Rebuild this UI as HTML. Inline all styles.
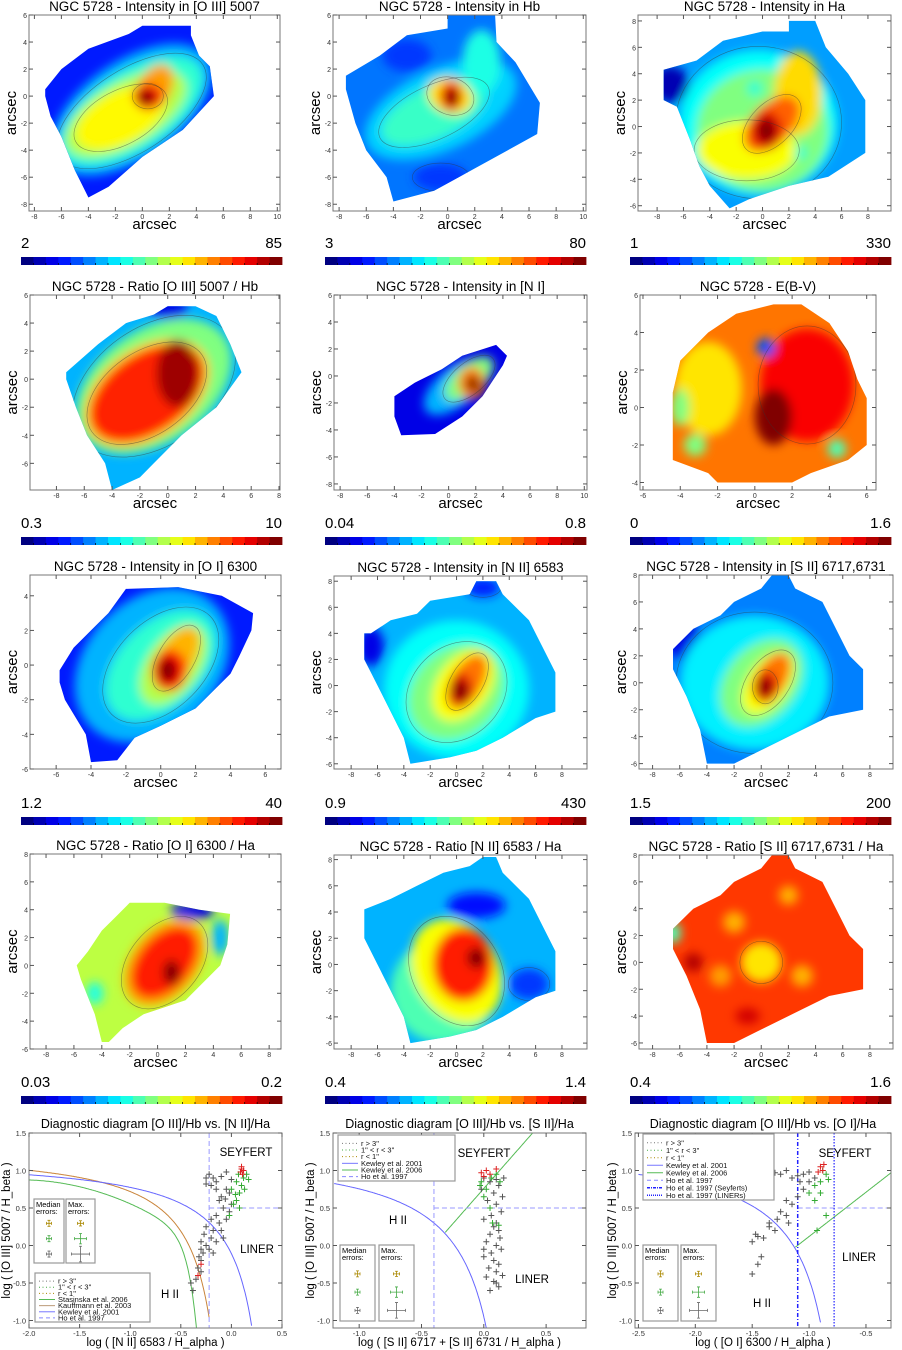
<!DOCTYPE html>
<html><head><meta charset="utf-8">
<style>
html,body{margin:0;padding:0;background:#fff;width:902px;height:1350px;overflow:hidden}
svg{display:block}
text{font-family:"Liberation Sans",sans-serif}
</style></head>
<body>
<svg id="root" width="902" height="1350" viewBox="0 0 902 1350" xmlns="http://www.w3.org/2000/svg">
<defs>
<filter id="blur" x="-20%" y="-20%" width="140%" height="140%"><feGaussianBlur stdDeviation="5"/></filter>
</defs>
</svg>
<script>
// ---------- diagnostic diagram data ----------
const d1Gray=[[-0.38,-0.6],[-0.35,-0.45],[-0.33,-0.3],[-0.3,-0.2],[-0.28,-0.1],[-0.25,0],[-0.3,0.05],[-0.2,0.1],[-0.22,-0.05],[-0.15,0.05],[-0.18,0.2],[-0.25,0.25],[-0.12,0.3],[-0.1,0.2],[-0.05,0.35],[-0.15,0.4],[-0.08,0.5],[-0.02,0.45],[0,0.55],[-0.1,0.65],[-0.05,0.75],[-0.2,0.8],[-0.25,0.9],[-0.15,0.85],[-0.1,0.92],[-0.22,0.95],[0,0.88],[-0.05,0.98],[-0.3,-0.35],[-0.27,0.15],[-0.4,-0.5],[-0.32,-0.15],[-0.18,-0.1],[-0.08,0.1],[-0.12,0.6],[-0.02,0.7],[-0.2,0.35],[-0.15,0.75],[-0.25,0.82],[-0.18,0.9],[-0.06,0.62],[-0.3,-0.05]];
const d1Green=[[0.02,0.55],[0.05,0.6],[0.08,0.7],[0.1,0.8],[0.12,0.9],[0.15,0.95],[0.05,0.85],[0.0,0.75],[0.13,0.75],[0.07,0.95],[-0.02,0.4],[0.08,0.5],[0.17,0.88],[0.04,0.68]];
const d1Red=[[0.09,0.98],[0.1,1.02],[0.11,0.95],[0.1,1.05],[0.12,1.0],[-0.33,-0.4],[-0.3,-0.25]];
const d2Gray=[[0.0,0.9],[0.05,0.85],[0.1,0.88],[0.12,0.8],[0.08,0.7],[0.03,0.6],[0.1,0.55],[0.14,0.45],[0.06,0.4],[0.0,0.35],[0.1,0.3],[0.12,0.2],[0.05,0.15],[0.02,0.05],[0.1,0.0],[0.14,-0.05],[0.06,-0.1],[0.0,-0.15],[0.08,-0.2],[0.12,-0.25],[0.04,-0.3],[0.1,-0.35],[0.02,-0.42],[0.08,-0.48],[0.12,-0.55],[0.05,-0.6],[0.15,0.65],[0.16,0.9],[-0.02,0.75],[0.08,0.25],[0.13,0.1],[0.0,-0.05],[0.15,-0.4],[0.1,-0.5]];
const d2Green=[[-0.03,0.8],[0.02,0.75],[0.06,0.9],[0.1,0.95],[0.0,0.65],[0.05,0.5],[0.07,0.3],[0.12,0.27],[-0.02,0.85],[0.13,0.85]];
const d2Red=[[-0.02,0.97],[0.02,1.0],[0.05,0.95],[0.1,1.02],[0.0,0.92]];
const d3Gray=[[-1.5,-0.38],[-1.45,-0.25],[-1.42,-0.15],[-1.5,0.05],[-1.47,0.15],[-1.4,0.1],[-1.35,0.25],[-1.3,0.2],[-1.28,0.35],[-1.25,0.45],[-1.2,0.4],[-1.15,0.55],[-1.2,0.6],[-1.1,0.65],[-1.05,0.75],[-1.25,0.95],[-1.2,1.0],[-1.15,0.9],[-1.1,0.93],[-1.05,0.95],[-1.0,0.98],[-0.95,0.9],[-1.3,0.97],[-1.35,0.3],[-1.45,0.12],[-1.18,0.3],[-1.0,0.85],[-1.08,0.85]];
const d3Green=[[-0.95,0.8],[-0.9,0.85],[-0.85,0.95],[-0.9,0.7],[-1.0,0.7],[-0.88,1.0],[-0.95,0.6],[-0.93,0.2],[-0.85,0.4],[-0.83,0.88]];
const d3Red=[[-0.9,1.05],[-0.88,1.0],[-0.92,0.98],[-0.87,1.08]];
const mapXTicks=[-8,-6,-4,-2,0,2,4,6,8,10];
const mapYTicks=[-8,-6,-4,-2,0,2,4,6,8];
const diagYTicks=[-1.0,-0.5,0.0,0.5,1.0,1.5];
const cbarLo=['2','3','1','0.3','0.04','0','1.2','0.9','1.5','0.03','0.4','0.4'];
const cbarHi=['85','80','330','10','0.8','1.6','40','430','200','0.2','1.4','1.6'];

const NS='http://www.w3.org/2000/svg';
const root=document.getElementById('root');
function el(tag,attrs,parent,txt){const e=document.createElementNS(NS,tag);for(const k in attrs)e.setAttribute(k,attrs[k]);if(txt!==undefined)e.textContent=txt;(parent||root).appendChild(e);return e;}
function jet(t){const c=v=>Math.round(255*Math.max(0,Math.min(1,v)));return `rgb(${c(1.5-Math.abs(4*t-3))},${c(1.5-Math.abs(4*t-2))},${c(1.5-Math.abs(4*t-1))})`;}

// ---------- maps ----------
const maps=[
{title:'NGC 5728 - Intensity in [O III] 5007',box:[29,15,280,211],xr:[-8.4,10.2],yr:[-8.5,6],base:0.15,
shape:[[-7.2,0.5],[-6,2],[-4,3.5],[-1,4.6],[0,5.2],[3.6,5.2],[3.6,4.5],[4.2,3],[5,2.2],[5.3,0],[3,-2.5],[0,-4.5],[-2.5,-6.7],[-4,-7.5],[-5,-5.5],[-6,-3],[-6.8,-1.5],[-7.2,0]],
layers:[[-0.8,-1,6.8,3.6,35,0.3],[-0.8,-1.1,6,2.9,33,0.42],[-1.2,-1.3,5,2.3,30,0.55],[-1.6,-1.6,3.6,1.9,28,0.63],[0.9,0.6,1.9,1.2,60,0.72],[0.4,0,1.1,0.9,0,0.86],[0.3,-0.1,0.65,0.55,0,1.0]]},
{title:'NGC 5728 - Intensity in Hb',box:[333,15,586,211],xr:[-8.45,10.2],yr:[-8.5,6],base:0.24,
shape:[[-7.5,1.5],[-5,3],[-3,4.5],[0,5],[0,6],[3.5,6],[3.6,4],[5,2.5],[6.8,-0.5],[6.6,-2.8],[3,-4.8],[-1,-7],[-4,-7.8],[-4.5,-6],[-6,-4],[-6.8,-2],[-7.5,0.5]],
layers:[[-0.5,-1,6,3,25,0.33],[-1,-1.2,4.2,1.9,25,0.43],[2.5,2.5,1.4,2.4,0,0.4],[0.2,0,1.3,1.7,70,0.65],[0.25,0,0.85,1.1,0,0.84],[0.3,-0.1,0.5,0.7,0,1.0],[-3,3,1.8,1.2,0,0.18],[-0.5,-6,2,1,0,0.18]]},
{title:'NGC 5728 - Intensity in Ha',box:[638,15,891,211],xr:[-9.45,9.75],yr:[-6.4,8.45],base:0.28,
shape:[[-7.5,4.3],[-5,5],[-3,6.5],[0,7.2],[2,7.2],[2,8],[4,8],[4.8,6],[6.5,4],[7.8,2],[7.8,-2],[5,-3.8],[2,-4.5],[-1,-5.5],[-2.5,-6.2],[-4,-4.5],[-4.8,-3],[-5.5,-1],[-6.5,1.5],[-7.5,2]],
layers:[[-7,3.2,1.4,1.4,0,0.05],[-0.3,0.3,6,5.5,0,0.38],[0,-0.3,5,4.6,0,0.5],[-1.2,-1.8,3.8,2.2,0,0.62],[2.7,2.5,1.8,3.2,0,0.66],[0.7,0.2,2.6,1.5,45,0.78],[0.3,-0.3,1.2,1.5,0,0.9],[0.3,-0.3,0.7,0.9,0,1.0],[-0.6,2.9,0.6,0.6,0,0.42],[2.9,-2,0.5,0.5,0,0.42]]},
{title:'NGC 5728 - Ratio [O III] 5007 / Hb',box:[30,295,280,490],xr:[-9.9,8.07],yr:[-7.9,6],base:0.3,
shape:[[-7.3,0.5],[-5,2.5],[-3,4],[-1,4.6],[0,5.2],[2,5.2],[3.5,4.5],[4.5,2.5],[5.3,0.5],[3.5,-2],[1,-4],[-1,-6],[-2,-7],[-4,-7.9],[-4.5,-6],[-5.8,-4],[-6.6,-2],[-7.3,0]],
layers:[[0,5,1.5,0.7,0,0.1],[-1,-0.5,6.2,4,35,0.5],[-1.5,-1,5,3.2,35,0.68],[-1.5,-1,4.6,2.8,35,0.84],[0.7,0.4,1.5,2.4,0,0.97]]},
{title:'NGC 5728 - Intensity in [N I]',box:[334,295,587,490],xr:[-8.45,10.2],yr:[-8.45,6],base:0.1,
shape:[[-4,-1.5],[-2.5,-0.5],[-0.5,0.5],[1,1.5],[3.5,2.3],[4.3,1.5],[4,0.8],[2.5,-1.5],[1,-3],[-1,-4.3],[-3.5,-4.4],[-4,-3]],
layers:[[0.5,-0.8,2.8,1.4,40,0.3],[1.5,-0.2,2.2,1.1,40,0.5],[1.7,-0.5,1,1.2,0,0.75],[1.8,-0.6,0.5,0.6,0,1.0]]},
{title:'NGC 5728 - E(B-V)',box:[640,295,876,490],xr:[-6.16,6.5],yr:[-4.4,6],base:0.76,
shape:[[-4.4,0.8],[-4,2.5],[-2.5,4],[-1,5],[1,5.5],[2.5,5.5],[4,4.5],[5,3],[5.5,1.5],[6,0.5],[6,-2],[5,-2.8],[3,-3.5],[2,-4],[-2,-4],[-2.5,-3.5],[-4.4,-2.8]],
layers:[[-2.5,1,1.8,2.5,0,0.65],[2.8,1.2,2.5,3,0,0.88],[1,-0.5,1,1.5,0,1.0],[0.6,3.2,0.5,0.5,0,0.2],[-3.2,-2,0.6,0.6,0,0.5],[4.4,-2.2,0.5,0.5,0,0.45],[-4,0,0.5,1,0,0.5]]},
{title:'NGC 5728 - Intensity in [O I] 6300',box:[30,575,281,769],xr:[-7.5,6.9],yr:[-6,5.2],base:0.15,
shape:[[-5.8,-0.3],[-5,1],[-4,2],[-3,3],[-2,4.4],[1,4.5],[3.5,4],[5.3,3],[5.2,2],[4.5,0.5],[4,-0.5],[2,-2.5],[0,-3.5],[-1.5,-4.2],[-2.5,-5.5],[-4,-5.6],[-4.3,-4],[-5.5,-2],[-5.8,-1]],
layers:[[-0.5,0,5,3.8,45,0.3],[0,0,3.8,2.4,45,0.42],[0.7,0,2.6,1.5,55,0.55],[0.9,0.4,2,1,60,0.7],[0.5,-0.3,1,1.2,0,0.86],[0.4,-0.3,0.5,0.7,0,1.0]]},
{title:'NGC 5728 - Intensity in [N II] 6583',box:[334,576,587,769],xr:[-9.3,9.9],yr:[-6.4,8.4],base:0.3,
shape:[[-6.5,4],[-5,5],[-3,5.5],[-2,6.5],[1,7],[1.5,8],[3,8],[3.5,7],[5.5,5],[6.5,3],[7.5,1],[7.5,-2],[6,-2.5],[3.5,-4],[1.5,-5],[-0.5,-5.5],[-3.5,-6],[-4,-4],[-5,-2],[-6,0],[-7,2],[-7,4]],
layers:[[-6.5,3,1,1.5,0,0.1],[2,7.5,1.3,0.7,0,0.15],[0,-0.3,5.5,5.3,0,0.38],[0,-0.5,4,3.3,45,0.5],[0.5,0,3,2,55,0.62],[0.8,0.3,2.3,1.2,60,0.76],[0.3,-0.3,0.9,1.3,0,0.9],[0.3,-0.4,0.6,0.8,0,1.0]]},
{title:'NGC 5728 - Intensity in [S II] 6717,6731',box:[639,575,893,769],xr:[-9.0,9.7],yr:[-6.4,8],base:0.25,
shape:[[-6.5,2.5],[-5,4],[-3,5],[-2,6],[0,7],[0.8,8],[2,8],[2.5,7],[4.5,6],[5.5,4],[6.5,2],[7.5,1],[7.5,-2],[5,-2.5],[3,-3.5],[0,-5],[-2,-6],[-4,-6],[-4.5,-3.5],[-5.5,-1],[-6.5,1]],
layers:[[-5.5,3,1.3,1.5,0,0.1],[-0.5,0,5.5,5,0,0.36],[0,0,3.6,2.6,50,0.5],[0.5,0,2.6,1.5,55,0.62],[0.8,0.4,2,1.1,60,0.76],[0.3,-0.3,0.9,1.2,0,0.9],[0.3,-0.3,0.5,0.7,0,1.0]]},
{title:'NGC 5728 - Ratio [O I] 6300 / Ha',box:[30,854,281,1049],xr:[-9.15,8.85],yr:[-6,8],base:0.56,
shape:[[-5.8,0],[-5,1],[-4,2.5],[-3,3.5],[-2,4.5],[0.5,4.5],[3,4],[5.2,3.7],[5,1.5],[4.5,0],[2,-2.5],[-1,-3.5],[-2.5,-4.5],[-3.5,-5.5],[-4,-5.5],[-4.5,-3.5],[-5.5,-1]],
layers:[[2.5,3.9,1.6,0.6,0,0.1],[4.5,2,0.6,1.3,0,0.3],[-4.5,-2,0.6,0.8,0,0.4],[0.5,0.2,3.6,2.4,50,0.7],[0.5,0.2,3,1.9,50,0.85],[1,-0.5,0.6,0.9,0,1.0]]},
{title:'NGC 5728 - Ratio [N II] 6583 / Ha',box:[334,855,587,1049],xr:[-9.3,9.9],yr:[-6.45,8.35],base:0.3,
shape:[[-7,4.2],[-5,5],[-3,6],[-1,7],[1,7.5],[2,8.2],[3,8.2],[3.5,7],[5.5,5],[6.5,3],[7.5,1],[7.5,-2],[6,-2.5],[3.5,-4],[1.5,-5],[-0.5,-5.5],[-3.5,-6],[-4,-4],[-5,-2],[-6,0],[-7,2]],
layers:[[1.5,4.5,2.2,1,0,0.14],[5.5,-1.5,1.5,1.2,0,0.18],[-1,-2,4,4,30,0.45],[0,-0.5,3.2,4.2,30,0.62],[0.5,0,2.3,2.8,0,0.85],[1.5,0.5,0.7,0.8,0,1.0]]},
{title:'NGC 5728 - Ratio [S II] 6717,6731 / Ha',box:[639,855,893,1049],xr:[-9.0,9.7],yr:[-6.45,8],base:0.82,
shape:[[-6.5,2.5],[-5,4],[-3,5],[-2,6],[0,7],[0.8,8],[2,8],[2.5,7],[4.5,6],[5.5,4],[6.5,2],[7.5,1],[7.5,-2],[5,-2.5],[3,-3.5],[0,-5],[-2,-6],[-4,-6],[-4.5,-3.5],[-5.5,-1],[-6.5,1]],
layers:[[-6.5,2.2,0.6,0.8,0,0.45],[0,0,1.5,1.5,0,0.65],[-2,3,0.8,0.8,0,0.7],[3,-1,0.8,0.8,0,0.7],[-3,-1,0.8,0.8,0,0.72],[2,5,0.7,0.7,0,0.7],[-1,-4,0.9,0.6,0,0.92],[-5,0,0.7,0.7,0,0.95]]}
];
const cbarRowY=[257,537,817,1096];
const cbarColX=[[21,282],[325,586],[630,891]];

maps.forEach((m,i)=>{
  const [x0,y0,x1,y1]=m.box, [xa,xb]=m.xr, [ya,yb]=m.yr;
  const sx=v=>x0+(v-xa)/(xb-xa)*(x1-x0), sy=v=>y1-(v-ya)/(yb-ya)*(y1-y0);
  const kx=(x1-x0)/(xb-xa), ky=(y1-y0)/(yb-ya);
  const g=el('g',{},root);
  
  
  const cid='clip'+i;
  const cp=el('clipPath',{id:cid},g);
  el('polygon',{points:m.shape.map(p=>sx(p[0]).toFixed(1)+','+sy(p[1]).toFixed(1)).join(' ')},cp);
  const img=el('g',{'clip-path':`url(#${cid})`},g);
  
  
  el('rect',{x:x0,y:y0,width:x1-x0,height:y1-y0,fill:jet(m.base)},img);
  const bl=el('g',{filter:'url(#blur)'},img);
  m.layers.forEach(L=>{
    const cx=sx(L[0]),cy=sy(L[1]);
    el('ellipse',{cx,cy,rx:L[2]*kx,ry:L[3]*ky,transform:`rotate(${-L[4]} ${cx} ${cy})`,fill:jet(L[5])},bl);
  });
  m.layers.forEach((L,j)=>{
    if(j%2==1&&L[2]>0.8){const cx=sx(L[0]),cy=sy(L[1]);
    el('ellipse',{cx,cy,rx:L[2]*kx*1.05,ry:L[3]*ky*1.05,transform:`rotate(${-L[4]} ${cx} ${cy})`,fill:'none',stroke:'#333','stroke-width':0.6,'stroke-opacity':0.5},img);}
  });
  const fr=el('rect',{x:x0,y:y0,width:x1-x0,height:y1-y0,fill:'none',stroke:'#777','stroke-width':1},g);
  
  
  mapXTicks.forEach(t=>{if(t<xa||t>xb)return;const x=sx(t);
    el('line',{x1:x,x2:x,y1:y1,y2:y1-4,stroke:'#555'},g);el('line',{x1:x,x2:x,y1:y0,y2:y0+4,stroke:'#555'},g);
    el('text',{x:x,y:y1+8,'font-size':7,'text-anchor':'middle',fill:'#333'},g,String(t));});
  mapYTicks.forEach(t=>{if(t<ya||t>yb)return;const y=sy(t);
    el('line',{x1:x0,x2:x0+4,y1:y,y2:y,stroke:'#555'},g);el('line',{x1:x1,x2:x1-4,y1:y,y2:y,stroke:'#555'},g);
    el('text',{x:x0-2,y:y+3,'font-size':7,'text-anchor':'end',fill:'#333'},g,String(t));});
  const tt=el('text',{x:(x0+x1)/2,y:y0-4,'font-size':13.5,'text-anchor':'middle',fill:'#000'},g,m.title);
  
  
  const xl=el('text',{x:(x0+x1)/2,y:y1+18,'font-size':15,'text-anchor':'middle'},g,'arcsec');
  
  
  const ym=(y0+y1)/2;
  const yl=el('text',{x:x0-17,y:ym,'font-size':15,'text-anchor':'middle',transform:`rotate(-90 ${x0-17} ${ym})`,'dominant-baseline':'middle'},g,'arcsec');
  
  
  const row=Math.floor(i/3),col=i%3;const cy=cbarRowY[row];const [cx0,cx1]=cbarColX[col];
  const cb=el('g',{},g);
  
  
  const n=21,w=(cx1-cx0)/n;
  for(let k=0;k<n;k++){el('rect',{x:cx0+k*w,y:cy,width:w+0.4,height:8,fill:jet(k/(n-1))},cb);
    if(k>0)el('line',{x1:cx0+k*w,x2:cx0+k*w,y1:cy+8,y2:cy+6,stroke:'#000','stroke-width':0.7},cb);}
  const lo=el('text',{x:cx0,y:cy-9,'font-size':15,'font-family':'Liberation Serif,serif'},cb,cbarLo[i]);
  
  
  const hi=el('text',{x:cx1,y:cy-9,'font-size':15,'text-anchor':'end','font-family':'Liberation Serif,serif'},cb,cbarHi[i]);
  
  
});

// ---------- diagnostic diagrams ----------
const diags=[
{title:'Diagnostic diagram [O III]/Hb vs. [N II]/Ha',box:[29,1133,282,1328],xr:[-2.0,0.5],xticks:[-2.0,-1.5,-1.0,-0.5,0.0,0.5],
 xlabel:'log ( [N II] 6583 / H_alpha )',gray:d1Gray,green:d1Green,red:d1Red,
 texts:[['SEYFERT',246,1156],['LINER',257,1253],['H II',170,1298]],legend:[35,1273,150,1322],
 entries:[['dots','#777','r > 3"'],['dots','#4a4','1" < r < 3"'],['dots','#a80','r < 1"'],['line','#5b5','Stasinska et al. 2006'],['line','#b97','Kauffmann et al. 2003'],['line','#77f','Kewley et al. 2001'],['dash','#88f','Ho et al. 1997']],
 err:[[34,1199,64,1263],[66,1199,95,1263]]},
{title:'Diagnostic diagram [O III]/Hb vs. [S II]/Ha',box:[333,1133,586,1328],xr:[-1.21,0.82],xticks:[-1.0,-0.5,0.0,0.5],
 xlabel:'log ( [S II] 6717 + [S II] 6731 / H_alpha )',gray:d2Gray,green:d2Green,red:d2Red,
 texts:[['SEYFERT',484,1157],['H II',398,1224],['LINER',532,1283]],legend:[338,1135,455,1181],
 entries:[['dots','#777','r > 3"'],['dots','#4a4','1" < r < 3"'],['dots','#a80','r < 1"'],['line','#77f','Kewley et al. 2001'],['line','#5b5','Kewley et al. 2006'],['dash','#88f','Ho et al. 1997']],
 err:[[340,1245,375,1321],[379,1245,414,1321]]},
{title:'Diagnostic diagram [O III]/Hb vs. [O I]/Ha',box:[635,1133,891,1328],xr:[-2.53,-0.28],xticks:[-2.5,-2.0,-1.5,-1.0,-0.5],
 xlabel:'log ( [O I] 6300 / H_alpha )',gray:d3Gray,green:d3Green,red:d3Red,
 texts:[['SEYFERT',845,1157],['LINER',859,1261],['H II',762,1307]],legend:[643,1134,774,1200],
 entries:[['dots','#777','r > 3"'],['dots','#4a4','1" < r < 3"'],['dots','#a80','r < 1"'],['line','#77f','Kewley et al. 2001'],['line','#5b5','Kewley et al. 2006'],['dash','#88f','Ho et al. 1997'],['dashdot','#22f','Ho et al. 1997 (Seyferts)'],['dot','#22f','Ho et al. 1997 (LINERs)']],
 err:[[643,1245,678,1321],[681,1245,716,1321]]}
];
const yA=-1.1,yB=1.5;
diags.forEach((d,i)=>{
  const [x0,y0,x1,y1]=d.box,[xa,xb]=d.xr;
  const sx=v=>x0+(v-xa)/(xb-xa)*(x1-x0), sy=v=>y1-(v-yA)/(yB-yA)*(y1-y0);
  const g=el('g',{},root);
  
  
  const cid='dclip'+i;const cp=el('clipPath',{id:cid},g);el('rect',{x:x0,y:y0,width:x1-x0,height:y1-y0},cp);
  const pg=el('g',{'clip-path':`url(#${cid})`},g);
  const curve=(f,a,b,color,name,extra)=>{let pts=[];for(let k=0;k<=200;k++){const x=a+(b-a)*k/200;const y=f(x);if(isFinite(y))pts.push(sx(x).toFixed(1)+','+sy(y).toFixed(1));}
    const p=el('polyline',Object.assign({points:pts.join(' '),fill:'none',stroke:color,'stroke-width':1},extra||{}),pg);
    
    };
  const dash={'stroke-dasharray':'5,3'};
  if(i===0){
    curve(x=>(-30.787+1.1358*x+0.27297*x*x)*Math.tanh(5.7409*x)-31.093,-2,-0.34,'#5b5','stasinska-curve');
    curve(x=>0.61/(x-0.05)+1.3,-2,-0.22,'#c9843a','kauffmann-curve');
    curve(x=>0.61/(x-0.47)+1.19,-2,0.2,'#66f','kewley-2001-curve');
    el('line',Object.assign({x1:sx(-0.22),x2:sx(-0.22),y1:y0,y2:y1,stroke:'#99f'},dash),pg);
    el('line',Object.assign({x1:sx(-0.22),x2:x1,y1:sy(0.5),y2:sy(0.5),stroke:'#99f'},dash),pg);
  } else if(i===1){
    curve(x=>0.72/(x-0.32)+1.30,-1.2,0.02,'#66f','kewley-2001-curve');
    curve(x=>1.89*x+0.76,-0.31,0.5,'#5b5','kewley-2006-line');
    el('line',Object.assign({x1:sx(-0.4),x2:sx(-0.4),y1:y0,y2:y1,stroke:'#99f'},dash),pg);
    el('line',Object.assign({x1:sx(-0.4),x2:x1,y1:sy(0.5),y2:sy(0.5),stroke:'#99f'},dash),pg);
  } else {
    curve(x=>0.73/(x+0.59)+1.33,-2.5,-0.9,'#66f','kewley-2001-curve');
    curve(x=>1.18*x+1.30,-1.12,-0.28,'#5b5','kewley-2006-line');
    el('line',Object.assign({x1:sx(-1.1),x2:x1,y1:sy(0.5),y2:sy(0.5),stroke:'#99f'},dash),pg);
    el('line',{x1:sx(-1.1),x2:sx(-1.1),y1:y0,y2:y1,stroke:'#22f','stroke-width':1.5,'stroke-dasharray':'4,2,1,2'},pg);
    el('line',{x1:sx(-0.78),x2:sx(-0.78),y1:y0,y2:y1,stroke:'#22f','stroke-width':1.2,'stroke-dasharray':'1.5,1.5'},pg);
  }
  const plus=(arr,color,name)=>arr.forEach(p=>{const x=sx(p[0]),y=sy(p[1]);
    const m=el('path',{d:`M${x-3},${y}h6M${x},${y-3}v6`,stroke:color,'stroke-width':1},pg);
    
    });
  plus(d.gray,'#555','point-outer');plus(d.green,'#3a3','point-middle');plus(d.red,'#d22','point-inner');
  el('rect',{x:x0,y:y0,width:x1-x0,height:y1-y0,fill:'none',stroke:'#777'},g);
  d.xticks.forEach(t=>{const x=sx(t);el('line',{x1:x,x2:x,y1:y1,y2:y1-4,stroke:'#555'},g);el('line',{x1:x,x2:x,y1:y0,y2:y0+4,stroke:'#555'},g);
    el('text',{x:x,y:y1+8,'font-size':7.5,'text-anchor':'middle',fill:'#333'},g,t.toFixed(1));});
  diagYTicks.forEach(t=>{const y=sy(t);el('line',{x1:x0,x2:x0+4,y1:y,y2:y,stroke:'#555'},g);el('line',{x1:x1,x2:x1-4,y1:y,y2:y,stroke:'#555'},g);
    el('text',{x:x0-3,y:y+3,'font-size':7.5,'text-anchor':'end',fill:'#333'},g,t.toFixed(1));});
  const tt=el('text',{x:(x0+x1)/2,y:y0-5,'font-size':12.5,'text-anchor':'middle'},g,d.title);
  
  
  const xl=el('text',{x:(x0+x1)/2,y:y1+18,'font-size':11.5,'text-anchor':'middle'},g,d.xlabel);
  
  
  const ym=(y0+y1)/2;
  const yl=el('text',{x:x0-19,y:ym,'font-size':11.5,'text-anchor':'middle',transform:`rotate(-90 ${x0-19} ${ym})`},g,'log ( [O III] 5007 / H_beta )');
  
  
  d.texts.forEach(t=>{const e=el('text',{x:t[1],y:t[2],'font-size':11.5,'text-anchor':'middle'},g,t[0]);
    
    });
  const [lx0,ly0,lx1,ly1]=d.legend;
  const lg=el('g',{},g);
  
  
  el('rect',{x:lx0,y:ly0,width:lx1-lx0,height:ly1-ly0,fill:'#fff',stroke:'#999','stroke-width':1.2},lg);
  const step=(ly1-ly0-6)/d.entries.length;
  d.entries.forEach((e,k)=>{const y=ly0+5+step*(k+0.5);
    const ent=el('g',{},lg);
    
    
    const a={x1:lx0+4,x2:lx0+20,y1:y,y2:y,stroke:e[1],'stroke-width':1};
    if(e[0]==='dots')a['stroke-dasharray']='1,2.5';
    if(e[0]==='dash')a['stroke-dasharray']='4,3';
    if(e[0]==='dashdot'){a['stroke-dasharray']='3,1,1,1';a['stroke-width']=1.5;}
    if(e[0]==='dot'){a['stroke-dasharray']='1,1';a['stroke-width']=1.5;}
    el('line',a,ent);
    el('text',{x:lx0+23,y:y+2.5,'font-size':7.5,fill:'#111'},ent,e[2]);});
  d.err.forEach((b,k)=>{const [bx0,by0,bx1,by1]=b;const eg=el('g',{},g);
    
    
    el('rect',{x:bx0,y:by0,width:bx1-bx0,height:by1-by0,fill:'#fff',stroke:'#999','stroke-width':1.2},eg);
    el('text',{x:bx0+2,y:by0+8,'font-size':7.5},eg,k?'Max.':'Median');
    el('text',{x:bx0+2,y:by0+15,'font-size':7.5},eg,'errors:');
    const cx=(bx0+bx1)/2;const h=by1-by0;const cols=['#a80','#4a4','#666'];
    [0.38,0.62,0.86].forEach((f,j)=>{const y=by0+h*f;const s=k?(j+1)*3:2.5;const sv=k?(j+1)*2.6:3;
      el('path',{d:`M${cx-s},${y}h${2*s}M${cx},${y-sv}v${2*sv}M${cx-s},${y-1.5}v3M${cx+s},${y-1.5}v3M${cx-1.5},${y-sv}h3M${cx-1.5},${y+sv}h3`,stroke:cols[j],'stroke-width':0.8,fill:'none'},eg);});
  });
});
</script>
</body></html>
